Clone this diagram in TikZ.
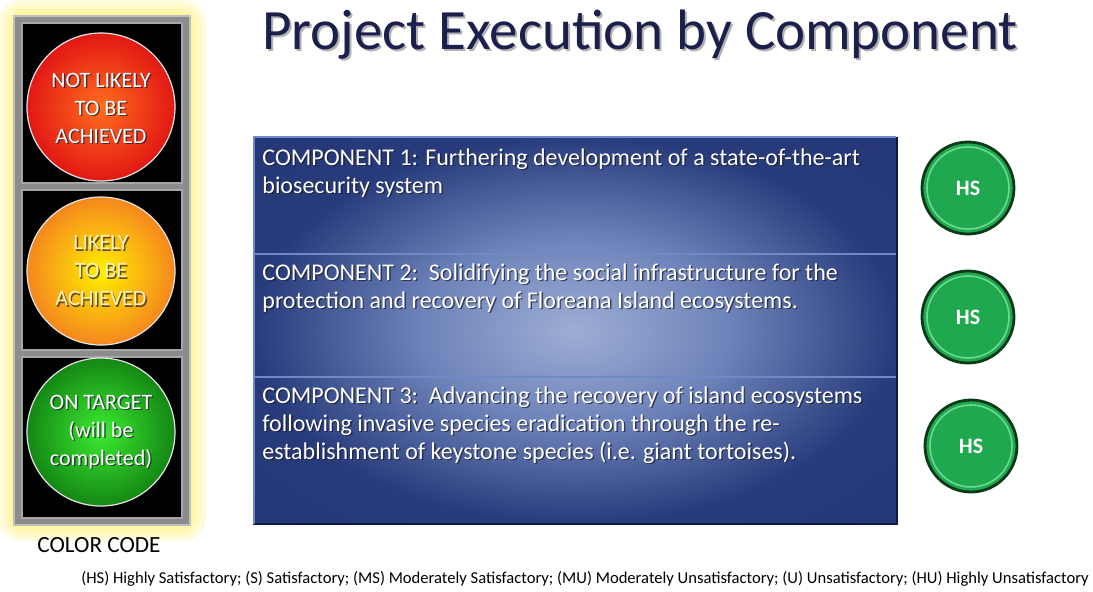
\documentclass[tikz,border=0pt]{standalone}
\usepackage{fontspec}
\setmainfont{Carlito}
\usetikzlibrary{positioning}

\definecolor{titolo}{HTML}{1B1F4B}
\definecolor{ombra}{HTML}{1A1A2E}
\definecolor{bagliore}{HTML}{FFF27A}
\definecolor{cassa}{HTML}{8C8C8C}
\definecolor{pannelloChiaro}{HTML}{9DAED4}
\definecolor{pannelloMedio}{HTML}{4E66A8}
\definecolor{pannelloScuro}{HTML}{1E3070}
\definecolor{bordoChiaro}{HTML}{6F88C6}
\definecolor{bordoScuro}{HTML}{0E1A45}
\definecolor{verdeHS}{HTML}{1FA84E}
\definecolor{verdeBordo}{HTML}{0B3A1B}
\definecolor{verdeLuce}{HTML}{6BD893}

% sfumatura del pannello
\pgfdeclareradialshading{pannello}{\pgfpoint{0bp}{0bp}}{%
  color(0bp)=(pannelloChiaro); color(12bp)=(pannelloMedio!60!pannelloChiaro);
  color(25bp)=(pannelloScuro!80!pannelloMedio); color(50bp)=(pannelloScuro)}

\tikzset{
  luce/.style={circle, minimum size=74pt, inner sep=0pt, draw=white!80!gray, line width=0.6pt,
    align=center, font=\fontsize{11}{14}\selectfont, text=white},
  sezione/.style={fill=black, draw=gray!70, line width=0.8pt},
  riga/.style={draw=bordoScuro, line width=1pt},
  componente/.style={anchor=north west, inner sep=0pt, align=left, text=white,
    font=\fontsize{12}{14}\selectfont},
  hs/.style={circle, minimum size=46pt, inner sep=0pt, fill=verdeHS, draw=verdeBordo,
    line width=1.4pt}
}

% testo con ombra: nome, posizione, stile, testo
\newcommand{\conombra}[4]{%
  \node[#3, text=ombra, opacity=0.7] (#1-o) at ([shift={(0.7pt,-0.7pt)}]#2) {#4};
  \node[#3] (#1) at (#2) {#4};}

\begin{document}
\begin{tikzpicture}[x=0.5pt, y=-0.5pt]
  \useasboundingbox (0,0) rectangle (1093,591);

  % titolo
  \node[text=gray!60] (titolo-o) at (642,37) {\fontsize{28.5}{32}\selectfont Project Execution by Component};
  \node[text=titolo] (titolo) at (640,35) {\fontsize{28.5}{32}\selectfont Project Execution by Component};

  % semaforo con alone giallo
  \foreach \w in {16,11,7,4}
    \draw[bagliore, opacity=0.25, line width=\w pt, rounded corners=4pt] (14,16) rectangle (190,525);
  \draw[fill=cassa, draw=gray!50, line width=1pt] (14,16) rectangle (190,525);
  \draw[sezione] (22,23) rectangle (182,183);
  \draw[sezione] (22,190) rectangle (182,350);
  \draw[sezione] (22,357) rectangle (182,518);

  \node[luce, shade, inner color={rgb,255:red,255;green,110;blue,30}, outer color={rgb,255:red,226;green,24;blue,20}] (rosso) at (101,107) {};
  \node[luce, shade, inner color={rgb,255:red,255;green,240;blue,0}, outer color={rgb,255:red,245;green,135;blue,30}] (arancio) at (101,271) {};
  \node[luce, shade, inner color={rgb,255:red,60;green,235;blue,50}, outer color={rgb,255:red,20;green,135;blue,20}] (verde) at (101,432) {};

  \conombra{t-rosso}{101,108}{luce, draw=none}{NOT LIKELY\\TO BE\\ACHIEVED}
  \conombra{t-arancio}{101,271}{luce, draw=none, text={rgb,255:red,255;green,242;blue,180}}{LIKELY\\TO BE\\ACHIEVED}
  \conombra{t-verde}{101,432}{luce, draw=none}{ON TARGET\\(will be\\completed)}

  \node[font=\fontsize{11.6}{13}\selectfont] (codice) at (99,545) {COLOR CODE};

  % pannello dei componenti
  \shade[shading=pannello] (253,137) rectangle (897,524);
  \foreach \a/\b in {137/254, 254/377, 377/524} {
    \draw[riga] (253,\b) -- (897,\b) -- (897,\a);
    \draw[bordoChiaro, line width=1.2pt] (254,\b) -- (254,\a) -- (896,\a);
  }

  \conombra{c1}{262,148}{componente}{COMPONENT 1: Furthering development of a state-of-the-art\\biosecurity system}
  \conombra{c2}{262,263}{componente}{COMPONENT 2:\ \ Solidifying the social infrastructure for the\\protection and recovery of Floreana Island ecosystems.}
  \conombra{c3}{262,386}{componente}{COMPONENT 3:\ \ Advancing the recovery of island ecosystems\\following invasive species eradication through the re-\\establishment of keystone species (i.e. giant tortoises).}

  % valutazioni
  \foreach \n/\y/\x in {1/188/968, 2/317/968, 3/446/971} {
    \node[hs] (hs\n) at (\x,\y) {};
    \draw[verdeLuce, line width=0.8pt] (hs\n.center) circle (20.5pt);
    \node[text=white, font=\fontsize{11}{12}\selectfont\bfseries] (hs\n-t) at (hs\n.center) {HS};
  }

  % legenda
  \node[font=\fontsize{8.3}{10}\selectfont] (legenda) at (585,579) {(HS) Highly Satisfactory; (S) Satisfactory; (MS) Moderately Satisfactory; (MU) Moderately Unsatisfactory; (U) Unsatisfactory; (HU) Highly Unsatisfactory};
\end{tikzpicture}
\end{document}
